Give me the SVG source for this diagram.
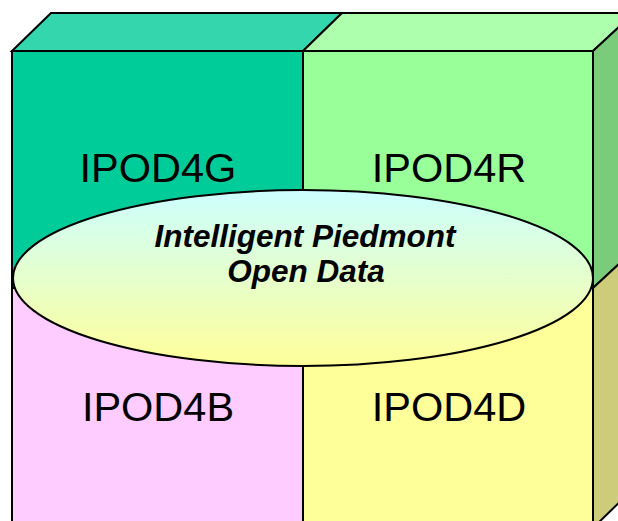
<svg xmlns="http://www.w3.org/2000/svg" width="618" height="521" viewBox="0 0 618 521">
<defs>
<linearGradient id="eg" x1="0" y1="0" x2="0" y2="1">
<stop offset="0" stop-color="#CCFFFF"/>
<stop offset="1" stop-color="#FFFF99"/>
</linearGradient>
<style>
.f{stroke:#000;stroke-width:2;stroke-linejoin:miter}
.lbl{font-family:"Liberation Sans",Arial,sans-serif;font-size:41.5px;fill:#000;text-anchor:middle}
.ell{font-family:"Liberation Sans",Arial,sans-serif;font-size:31.5px;font-weight:bold;font-style:italic;fill:#000;text-anchor:middle}
</style>
</defs>
<rect width="618" height="521" fill="#fff"/>
<g id="ipod4g">
<polygon class="f" points="12,51 51,13 342,13 303,51" fill="#33D6AD"/>
<rect class="f" x="12" y="51" width="291" height="237" fill="#00CC99"/>
<text class="lbl" x="158" y="182">IPOD4G</text>
</g>
<g id="ipod4r">
<polygon class="f" points="303,51 342,13 634,13 593,51" fill="#ADFFAD"/>
<polygon class="f" points="593,51 634,13 634,250 593,288" fill="#7ACC7A"/>
<rect class="f" x="303" y="51" width="290" height="237" fill="#99FF99"/>
<text class="lbl" x="449" y="182">IPOD4R</text>
</g>
<g id="ipod4b">
<rect class="f" x="12" y="288" width="291" height="240" fill="#FFCCFF"/>
<text class="lbl" x="158" y="421">IPOD4B</text>
</g>
<g id="ipod4d">
<polygon class="f" points="593,288 634,250 634,488 593,528" fill="#CCCC7A"/>
<rect class="f" x="303" y="288" width="290" height="240" fill="#FFFF99"/>
<text class="lbl" x="449" y="421">IPOD4D</text>
</g>
<g id="ipod-core">
<ellipse class="f" cx="303" cy="278" rx="290" ry="88" fill="url(#eg)"/>
<text class="ell" x="305" y="247">Intelligent Piedmont</text>
<text class="ell" x="306" y="282">Open Data</text>
</g>
</svg>
